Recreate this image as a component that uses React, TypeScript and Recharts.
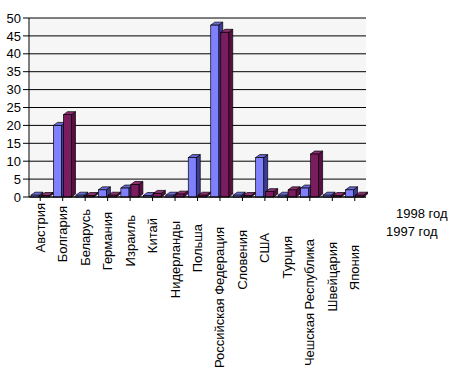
import React from 'react'
import { BarChart, Bar, XAxis, YAxis, CartesianGrid } from 'recharts'

const countries = [
  'Австрия', 'Болгария', 'Беларусь', 'Германия', 'Израиль', 'Китай', 'Нидерланды', 'Польша',
  'Российская Федерация', 'Словения', 'США', 'Турция', 'Чешская Республика', 'Швейцария', 'Япония',
]
const values1997 = [0.5, 20, 0.5, 2, 2.5, 0.3, 0.5, 11, 48, 0.5, 11, 0.5, 2.5, 0.5, 2]
const values1998 = [0, 23, 0.3, 0.5, 3.5, 1, 0.8, 0.5, 46, 0.3, 1.5, 2, 12, 0.3, 0.5]
const yTicks = [0, 5, 10, 15, 20, 25, 30, 35, 40, 45, 50]
const seriesLabels = ['1998 год', '1997 год']

const data = countries.map((name, i) => ({ name, y1997: values1997[i], y1998: values1998[i] }))

const C = {
  blue: '#8080ff', blueSide: '#3c3c96', blueTop: '#6a6ad8',
  plum: '#7b1c5e', plumSide: '#5a0e44', plumTop: '#8f2e70',
  wall: '#f6f6f6', text: '#000',
}
const FONT = '"Liberation Sans", Arial, sans-serif'

function Box3D(props: any) {
  const { x, y, width, height, front, side, top } = props
  if (x == null || width == null) return null
  const d = 4
  const dy = 3
  const h = Math.max(height || 0, 1.5)
  const yy = y + (height || 0) - h
  return (
    <g stroke="#000" strokeWidth={0.7}>
      <polygon points={`${x + width},${yy} ${x + width + d},${yy - dy} ${x + width + d},${yy + h - dy} ${x + width},${yy + h}`} fill={side} />
      <polygon points={`${x},${yy} ${x + d},${yy - dy} ${x + width + d},${yy - dy} ${x + width},${yy}`} fill={top} />
      <rect x={x} y={yy} width={width} height={h} fill={front} />
    </g>
  )
}

function CountryTick(props: any) {
  const { x, y, payload, index } = props
  const ty = y + index * 3
  return (
    <text x={x} y={ty} transform={`rotate(-90 ${x} ${ty})`} textAnchor="end" dominantBaseline="central"
      fontSize={13} fontFamily={FONT} fill={C.text}>
      {payload.value}
    </text>
  )
}

export default function App() {
  return (
    <div style={{ position: 'fixed', left: 0, top: 0, width: 449, height: 370, background: '#fff' }}>
      <BarChart width={449} height={370} data={data} barSize={8} barGap={2}
        margin={{ top: 18, right: 83, bottom: 8, left: 0 }}>
        <CartesianGrid vertical={false} stroke="#000" strokeWidth={1} fill={C.wall} />
        <XAxis dataKey="name" interval={0} height={165} tick={<CountryTick />} tickSize={4} tickMargin={2}
          tickLine={{ stroke: '#000' }} axisLine={{ stroke: '#000' }} />
        <YAxis domain={[0, 50]} ticks={yTicks} interval={0} width={29}
          tick={{ fill: C.text, fontSize: 13, fontFamily: FONT }}
          tickLine={{ stroke: '#000' }} axisLine={{ stroke: '#000' }} tickMargin={2} />
        <Bar dataKey="y1997" name={seriesLabels[1]} isAnimationActive={false}
          shape={(p: any) => <Box3D {...p} front={C.blue} side={C.blueSide} top={C.blueTop} />} />
        <Bar dataKey="y1998" name={seriesLabels[0]} isAnimationActive={false}
          shape={(p: any) => <Box3D {...p} front={C.plum} side={C.plumSide} top={C.plumTop} />} />
      </BarChart>
      <div style={{ position: 'absolute', left: 386, top: 205, fontFamily: FONT, fontSize: 13, color: C.text, lineHeight: '18px' }}>
        <div style={{ paddingLeft: 10 }}>{seriesLabels[0]}</div>
        <div>{seriesLabels[1]}</div>
      </div>
    </div>
  )
}
